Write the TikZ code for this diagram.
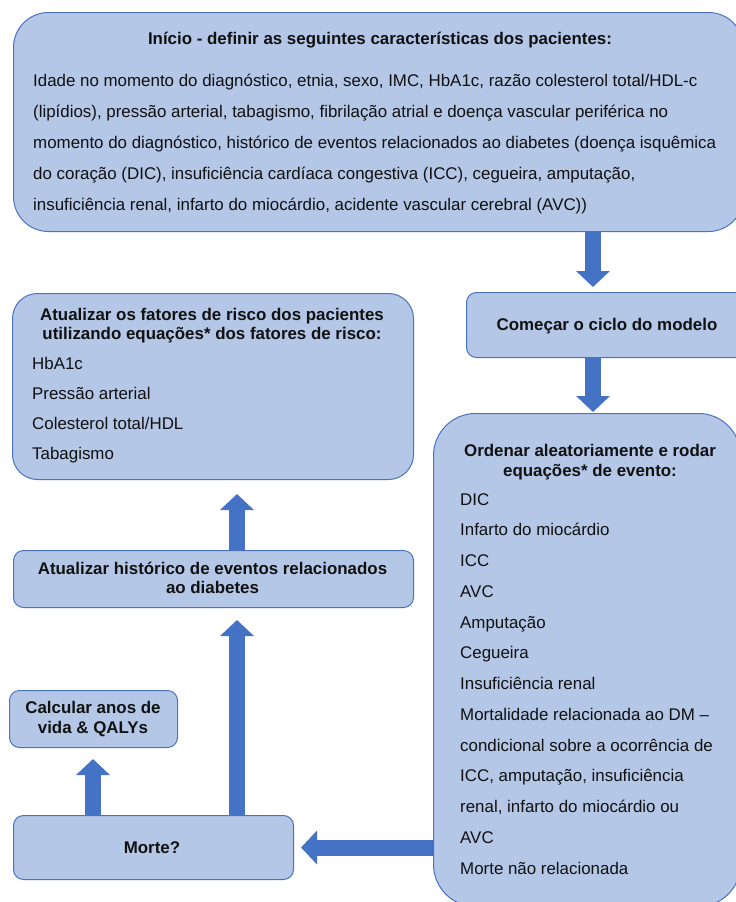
\documentclass[tikz,border=0pt]{standalone}
\usepackage{fontspec}
\setmainfont{Liberation Sans}
\usetikzlibrary{arrows.meta,calc}
\definecolor{boxfill}{HTML}{B4C7E7}
\definecolor{boxline}{HTML}{4A72BE}
\definecolor{arrowc}{HTML}{4472C4}
\definecolor{txt}{HTML}{111111}
\begin{document}
\begin{tikzpicture}[x=1pt,y=-1pt,
  box/.style={draw=boxline, fill=boxfill, line width=1pt, inner sep=0pt, anchor=north west},
  flow/.style={draw=arrowc, line width=16pt, -{Triangle[width=33pt,length=16pt]}},
  ttl/.style={font=\fontsize{16.9}{19.5}\selectfont\bfseries, align=center, inner sep=0pt, text=txt},
  itm/.style={font=\fontsize{16.9}{19}\selectfont, anchor=west, inner sep=0pt, text height=12pt, text depth=0pt, text=txt},
]
\useasboundingbox (0,0) rectangle (736,902);

% boxes
\node[box, rounded corners=35pt, minimum width=730pt, minimum height=219pt] (top) at (13,12) {};
\node[box, rounded corners=10pt, minimum width=282pt, minimum height=65pt] (start) at (466,292) {};
\node[box, rounded corners=42pt, minimum width=307pt, minimum height=493pt] (ord) at (433,413) {};
\node[box, rounded corners=25pt, minimum width=401pt, minimum height=186pt] (fat) at (12,293) {};
\node[box, rounded corners=10pt, minimum width=400pt, minimum height=57pt] (hist) at (13,550) {};
\node[box, rounded corners=10pt, minimum width=168pt, minimum height=57pt] (calc) at (9,690) {};
\node[box, rounded corners=10pt, minimum width=280pt, minimum height=64pt] (morte) at (13,815) {};

% titles
\node[ttl] (toptitle) at (380,40) {Início - definir as seguintes características dos pacientes:};
\node[ttl] (starttitle) at (607,326) {Começar o ciclo do modelo};
\node[ttl] (ordtitle) at (590,462) {Ordenar aleatoriamente e rodar\\equações* de evento:};
\node[ttl] (fattitle) at (212,325.5) {Atualizar os fatores de risco dos pacientes\\utilizando equações* dos fatores de risco:};
\node[ttl] (histtitle) at (212.5,578) {Atualizar histórico de eventos relacionados\\ao diabetes};
\node[ttl] (calctitle) at (93,719) {Calcular anos de\\vida \& QALYs};
\node[ttl] (mortetitle) at (152,848) {Morte?};

% top body
\foreach \t [count=\i] in {
  {Idade no momento do diagnóstico, etnia, sexo, IMC, HbA1c, razão colesterol total/HDL-c},
  {(lipídios), pressão arterial, tabagismo, fibrilação atrial e doença vascular periférica no},
  {momento do diagnóstico, histórico de eventos relacionados ao diabetes (doença isquêmica},
  {do coração (DIC), insuficiência cardíaca congestiva (ICC), cegueira, amputação,},
  {insuficiência renal, infarto do miocárdio, acidente vascular cerebral (AVC))}}
  \node[itm] (tb\i) at (33,{80+31*(\i-1)}) {\t};

% risk factor items
\foreach \t [count=\i] in {HbA1c, Pressão arterial, Colesterol total/HDL, Tabagismo}
  \node[itm] (fi\i) at (32,{363+30.3*(\i-1)}) {\t};

% event items
\foreach \t [count=\i] in {DIC, Infarto do miocárdio, ICC, AVC, Amputação, Cegueira,
  Insuficiência renal, Mortalidade relacionada ao DM –,
  condicional sobre a ocorrência de, {ICC, amputação, insuficiência},
  {renal, infarto do miocárdio ou}, AVC, Morte não relacionada}
  \node[itm] (oi\i) at (460,{499+30.75*(\i-1)}) {\t};

% arrows
\coordinate (cA) at (593,0);
\coordinate (cB) at (237,0);
\coordinate (cC) at (93,0);
\coordinate (cD) at (0,847.5);
\draw[flow] (top.south -| cA) -- ([yshift=5pt]start.north -| cA);
\draw[flow] (start.south -| cA) -- ([yshift=1pt]ord.north -| cA);
\draw[flow] (ord.west |- cD) -- ([xshift=7pt]morte.east |- cD);
\draw[flow] (morte.north -| cB) -- ([yshift=-12pt]hist.south -| cB);
\draw[flow] (hist.north -| cB) -- ([yshift=-14pt]fat.south -| cB);
\draw[flow] (morte.north -| cC) -- ([yshift=-11pt]calc.south -| cC);
\end{tikzpicture}
\end{document}
